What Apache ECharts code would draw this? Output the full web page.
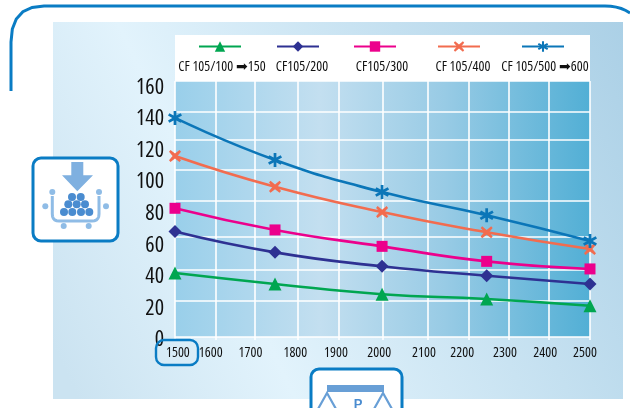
<!DOCTYPE html>
<html>
<head>
<meta charset="utf-8">
<style>html,body{margin:0;padding:0;background:#fff}#c{width:630px;height:408px}</style>
<script src="https://cdn.jsdelivr.net/npm/echarts@6/dist/echarts.min.js"></script>
</head>
<body>
<div id="c"></div>
<script>
const speedX = [1500, 1741, 1999, 2251, 2500];
const cf100 = [42.4, 35.5, 29, 26, 21.7];
const cf200 = [68.7, 55.5, 46.7, 40.7, 35.5];
const cf300 = [83.4, 69.7, 59.3, 49.8, 45];
const cf400 = [116.5, 97, 81, 68.2, 57.6];
const cf500 = [140.6, 114, 93.7, 79, 62.7];
const seriesNames = ['CF 105/100 ➡150', 'CF105/200', 'CF105/300', 'CF 105/400', 'CF 105/500 ➡600'];
const xTickLabels = ['1500','1600','1700','1800','1900','2000','2100','2200','2300','2400','2500'];
const xLabelAt = [1507,1586,1682,1790,1888,1992,2100,2192,2295,2392,2488];
const xGridAt = [1500,1597,1693,1796,1895,2001,2110,2207,2304,2400,2500];
const yTicks = [0,20,40,60,80,100,120,140,160];
const yGridAt = [1.9,24.7,44.3,65.2,88,107.7,126.7,144.4,164];

const FONT = '"Open Sans",sans-serif';
const BLUE = '#0a7cc4', ICON = '#7fb0e0', BALL = '#4a8cd0', BASK = '#8fbce6';

const pairs = a => speedX.map((x, i) => [x, a[i]]);
const star = 'path://M-1.8 -10L1.8 -10L1.8 -3.6L7.4 -6.8L9.2 -3.6L3.6 0L9.2 3.6L7.4 6.8L1.8 3.6L1.8 10L-1.8 10L-1.8 3.6L-7.4 6.8L-9.2 3.6L-3.6 0L-9.2 -3.6L-7.4 -6.8L-1.8 -3.6Z';
const cross = 'path://M-7.5 -10L0 -4L7.5 -10L10 -7L4 0L10 7L7.5 10L0 4L-7.5 10L-10 7L-4 0L-10 -7Z';
const cfg = [
  [cf100, '#00a651', 'triangle', 13],
  [cf200, '#2e3192', 'diamond', 13],
  [cf300, '#ec008c', 'rect', 11],
  [cf400, '#f26c4f', cross, 12],
  [cf500, '#0b76b8', star, 14]
];
const series = cfg.map((c, i) => ({
  name: seriesNames[i], type: 'line', data: pairs(c[0]), smooth: 0.5, clip: false, z: 3 + i,
  symbol: c[2], symbolSize: c[3],
  lineStyle: {color: c[1], width: 2.6}, itemStyle: {color: c[1]}
}));

const legendX = [198, 276, 353, 437, 521];
const legendTextX = [222, 302, 382, 463, 545];
const legends = seriesNames.map((n, i) => ({
  data: [n], left: legendX[i], top: 40, itemWidth: 42, itemHeight: 13, padding: 0, itemGap: 0,
  formatter: () => '', selectedMode: false, textStyle: {fontSize: 1}
}));

const circle = (cx, cy, r, fill, z) => ({type: 'circle', z: z, shape: {cx, cy, r}, style: {fill}, silent: true});
const poly = (points, stroke, lineWidth, z) => ({type: 'polyline', z, shape: {points}, style: {fill: 'none', stroke, lineWidth}, silent: true});
const corner = (p0, p1, p2) => [0, .2, .4, .6, .8, 1].map(t => [
  (1-t)*(1-t)*p0[0] + 2*t*(1-t)*p1[0] + t*t*p2[0],
  (1-t)*(1-t)*p0[1] + 2*t*(1-t)*p1[1] + t*t*p2[1]]);
const balls = [[72,197],[80.7,197],[68.3,204.3],[76.7,204.3],[85,204.3],[64,212],[72.3,212],[81,212],[89.3,212]];
const dots = [[52.3,192],[99,192],[45.3,206.3],[106,206.3],[63.7,226],[88.7,226]];

const graphics = [
  {type:'rect', z:-10, shape:{x:53,y:22,width:570,height:377},
   style:{fill:{type:'linear',x:30,y:297,x2:622,y2:18,global:true,colorStops:[
     {offset:0,color:'#cbe3f1'},{offset:0.3,color:'#e2f3fc'},{offset:1,color:'#abd0e6'}]}}},
  {type:'rect', z:-8, shape:{x:175,y:81,width:415,height:256},
   style:{fill:new echarts.graphic.LinearGradient(0,0,1,0,[
     {offset:0,color:'#99cfea'},{offset:0.35,color:'#c3dff0'},{offset:0.65,color:'#98cbe5'},{offset:1,color:'#52afd5'}])}},
  {type:'rect', z:-8, shape:{x:175,y:35,width:415,height:46}, style:{fill:'#fff'}},
  poly([[11,91],[11,42],...corner([11,42],[11,6],[44,6]),[605,6],...corner([605,6],[620,6],[630,13])], BLUE, 3, 20),
  {type:'rect', z:-6, shape:{x:33,y:158,width:85,height:83,r:8}, style:{fill:'#fff',stroke:BLUE,lineWidth:3}},
  {type:'polygon', z:-5, shape:{points:[[71.3,162],[83.3,162],[83.3,175.3],[93,175.3],[77.3,191.3],[62,175.3],[71.3,175.3]]}, style:{fill:ICON}},
  poly([[52.3,196],[52.3,214],...corner([52.3,214],[52.3,221],[59,221]),[92,221],...corner([92,221],[99,221],[99,214]),[99,196]], BASK, 3, -5),
  ...balls.map(b => circle(b[0], b[1], 4, BALL, -4)),
  ...dots.map(b => circle(b[0], b[1], 3, BASK, -4)),
  {type:'rect', z:-6, shape:{x:311,y:369,width:91,height:60,r:8}, style:{fill:'#fff',stroke:BLUE,lineWidth:3}},
  {type:'rect', z:-5, shape:{x:327,y:385,width:57,height:7}, style:{fill:'#689fd6'}},
  poly([[318,409],[327,393],[336,409]], '#689fd6', 2.2, -5),
  poly([[374,409],[383,393],[392,409]], '#689fd6', 2.2, -5),
  {type:'text', z:-4, style:{text:'P',x:358,y:404,align:'center',verticalAlign:'middle',font:'bold 13px "Liberation Sans",sans-serif',fill:BALL}},
  {type:'rect', z:20, shape:{x:156,y:340,width:42,height:25,r:8}, style:{fill:'none',stroke:BLUE,lineWidth:2.4}},
  ...seriesNames.map((n, i) => ({type:'text', z:5, style:{text:n,x:legendTextX[i],y:67,align:'center',verticalAlign:'middle',
     fontWeight:'condensed',fontSize:14,fontFamily:FONT,fill:'#111'}}))
];

const chart = echarts.init(document.getElementById('c'), null, {renderer:'canvas'});
chart.setOption({
  animation: false,
  backgroundColor: '#fff',
  grid: {left: 175, width: 415, top: 81, height: 259},
  legend: legends,
  graphic: graphics,
  xAxis: {
    type: 'value', min: 1500, max: 2500,
    axisLine: {show: false},
    axisTick: {show: false, customValues: xGridAt},
    splitLine: {show: true, lineStyle: {color: '#fff', width: 1.6}},
    axisLabel: {customValues: xLabelAt, formatter: (v) => xTickLabels[xLabelAt.indexOf(v)],
      color: '#111', fontFamily: FONT, fontWeight: 'condensed', fontSize: 14, margin: 6, hideOverlap: false, showMinLabel: true, showMaxLabel: true}
  },
  yAxis: {
    type: 'value', min: 0, max: 164,
    axisLine: {show: false},
    axisTick: {show: false, customValues: yGridAt},
    splitLine: {show: true, lineStyle: {color: '#fff', width: 1.6}},
    axisLabel: {customValues: yTicks, color: '#111', fontFamily: FONT, fontWeight: 'condensed', fontSize: 22, margin: 11}
  },
  series: series
});
</script>
</body>
</html>
